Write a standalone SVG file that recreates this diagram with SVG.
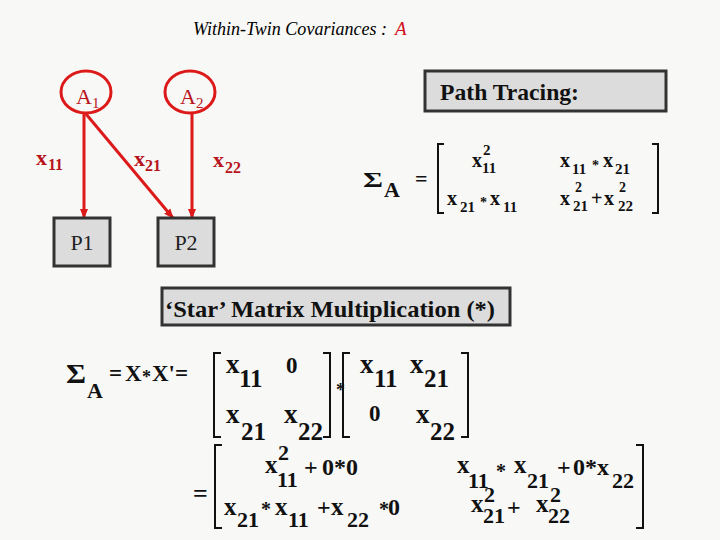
<svg xmlns="http://www.w3.org/2000/svg" width="720" height="540" viewBox="0 0 720 540">
<defs>
<marker id="ah" markerWidth="10" markerHeight="10" refX="9" refY="5" orient="auto" markerUnits="userSpaceOnUse">
<path d="M0,1 L10,5 L0,9 Z" fill="#dd1a1a"/>
</marker>
<style>
.bg{fill:#f8f8f6}
.lat{fill:none;stroke:#dd1a1a;stroke-width:3}
.box{fill:#dcdcdc;stroke:#333;stroke-width:3}
.con{stroke:#dd1a1a;stroke-width:3;fill:none;marker-end:url(#ah)}
.rl{font-family:"Liberation Serif",serif;fill:#b8141c}
.t{font-family:"Liberation Serif",serif;fill:#222}
.m{font-family:"Liberation Serif",serif;font-weight:bold;fill:#111}
.br{fill:none;stroke:#111;stroke-width:2}
</style>
</defs>
<rect class="bg" x="0" y="0" width="720" height="540"/>
<text x="193" y="35" font-family="'Liberation Serif',serif" font-style="italic" font-size="19" fill="#000" textLength="194" lengthAdjust="spacingAndGlyphs">Within-Twin Covariances :</text>
<text x="395" y="35" font-family="'Liberation Serif',serif" font-style="italic" font-size="19" fill="#d01020">A</text>

<g id="connectors">
<line class="con" x1="84" y1="114" x2="84" y2="218"/>
<line class="con" x1="86" y1="114" x2="173" y2="218"/>
<line class="con" x1="192" y1="114" x2="192" y2="218"/>
<text class="rl" font-weight="bold" font-size="22"><tspan x="36" y="165">x</tspan><tspan x="48" y="170" font-size="16">11</tspan></text>
<text class="rl" font-weight="bold" font-size="22"><tspan x="134" y="166">x</tspan><tspan x="145" y="171" font-size="16">21</tspan></text>
<text class="rl" font-weight="bold" font-size="22"><tspan x="213" y="167">x</tspan><tspan x="225" y="173" font-size="16">22</tspan></text>
</g>

<g id="A1">
<ellipse class="lat" cx="86" cy="92" rx="25" ry="21"/>
<text class="rl" font-size="22"><tspan x="76" y="104">A</tspan><tspan x="92" y="108" font-size="15">1</tspan></text>
</g>
<g id="A2">
<ellipse class="lat" cx="190" cy="92" rx="25" ry="21"/>
<text class="rl" font-size="22"><tspan x="180" y="104">A</tspan><tspan x="196" y="108" font-size="15">2</tspan></text>
</g>
<g id="P1">
<rect class="box" x="54" y="218" width="56" height="48"/>
<text class="t" x="82" y="250" font-size="22" text-anchor="middle">P1</text>
</g>
<g id="P2">
<rect class="box" x="158" y="218" width="56" height="48"/>
<text class="t" x="186" y="250" font-size="22" text-anchor="middle">P2</text>
</g>

<g id="pathTracing">
<rect class="box" x="425" y="71" width="241" height="40"/>
<text class="m" x="440" y="100" font-size="24" fill="#222" textLength="139" lengthAdjust="spacingAndGlyphs">Path Tracing:</text>
</g>

<g id="sigmaPath" class="m">
<text x="363" y="187" font-size="22" textLength="20" lengthAdjust="spacingAndGlyphs">Σ</text>
<text x="384" y="197" font-size="22">A</text>
<text x="415" y="186" font-size="22">=</text>
<path class="br" d="M444,144 L438,144 L438,213 L444,213"/>
<path class="br" d="M652,144 L658,144 L658,213 L652,213"/>
<text font-size="20"><tspan x="472" y="167">x</tspan><tspan x="483" y="155" font-size="15">2</tspan><tspan x="482" y="173" font-size="15">11</tspan></text>
<text font-size="20"><tspan x="560" y="167">x</tspan><tspan x="572" y="174" font-size="15">11</tspan><tspan x="592" y="170" font-size="14">*</tspan><tspan x="603" y="167">x</tspan><tspan x="615" y="174" font-size="15">21</tspan></text>
<text font-size="20"><tspan x="447" y="205">x</tspan><tspan x="460" y="212" font-size="15">21</tspan><tspan x="480" y="207" font-size="14">*</tspan><tspan x="490" y="205">x</tspan><tspan x="503" y="212" font-size="15">11</tspan></text>
<text font-size="20"><tspan x="560" y="205">x</tspan><tspan x="575" y="192" font-size="14">2</tspan><tspan x="573" y="211" font-size="15">21</tspan><tspan x="591" y="205">+</tspan><tspan x="604" y="205">x</tspan><tspan x="619" y="192" font-size="14">2</tspan><tspan x="618" y="211" font-size="15">22</tspan></text>
</g>

<g id="starBox">
<rect class="box" x="162" y="288" width="348" height="37"/>
<text class="m" x="165" y="317" font-size="24" fill="#111" textLength="330" lengthAdjust="spacingAndGlyphs">‘Star’ Matrix Multiplication (*)</text>
</g>

<g id="sigmaStar" class="m">
<text x="66" y="383" font-size="27" textLength="20" lengthAdjust="spacingAndGlyphs">Σ</text>
<text x="87" y="398" font-size="22">A</text>
<text font-size="23"><tspan x="109" y="381">=</tspan><tspan x="125" y="381">X</tspan><tspan x="142" y="383" font-size="18">*</tspan><tspan x="152" y="381">X'=</tspan></text>
<path class="br" d="M221,353 L214,353 L214,437 L221,437"/>
<path class="br" d="M323,353 L330,353 L330,437 L323,437"/>
<text font-size="27"><tspan x="226" y="373">x</tspan><tspan x="239" y="387" font-size="25">11</tspan></text>
<text x="286" y="373" font-size="23">0</text>
<text font-size="27"><tspan x="226" y="423">x</tspan><tspan x="241" y="440" font-size="25">21</tspan></text>
<text font-size="27"><tspan x="284" y="423">x</tspan><tspan x="298" y="440" font-size="25">22</tspan></text>
<text x="336" y="396" font-size="18">*</text>
<path class="br" d="M350,353 L343,353 L343,437 L350,437"/>
<path class="br" d="M461,353 L468,353 L468,437 L461,437"/>
<text font-size="27"><tspan x="360" y="373">x</tspan><tspan x="374" y="387" font-size="25">11</tspan></text>
<text font-size="27"><tspan x="410" y="373">x</tspan><tspan x="424" y="387" font-size="25">21</tspan></text>
<text x="369" y="421" font-size="23">0</text>
<text font-size="27"><tspan x="416" y="423">x</tspan><tspan x="430" y="440" font-size="25">22</tspan></text>

<text x="193" y="502" font-size="26">=</text>
<path class="br" d="M222,445 L215,445 L215,528 L222,528"/>
<path class="br" d="M636,445 L643,445 L643,528 L636,528"/>
<text font-size="25"><tspan x="265" y="473">x</tspan><tspan x="278" y="460" font-size="22">2</tspan><tspan x="277" y="487" font-size="22">11</tspan><tspan x="304" y="475" font-size="24">+</tspan><tspan x="322" y="475" font-size="24">0*0</tspan></text>
<text font-size="25"><tspan x="457" y="473">x</tspan><tspan x="468" y="488" font-size="22">11</tspan><tspan x="496" y="478" font-size="20">*</tspan><tspan x="514" y="473">x</tspan><tspan x="527" y="488" font-size="22">21</tspan><tspan x="557" y="475" font-size="24">+</tspan><tspan x="573" y="475" font-size="24">0*x</tspan><tspan x="612" y="488" font-size="22">22</tspan></text>
<text font-size="25"><tspan x="224" y="515">x</tspan><tspan x="237" y="527" font-size="22">21</tspan><tspan x="261" y="516" font-size="20">*</tspan><tspan x="275" y="515">x</tspan><tspan x="288" y="527" font-size="22">11</tspan><tspan x="317" y="515" font-size="24">+</tspan><tspan x="331" y="515">x</tspan><tspan x="347" y="527" font-size="22">22</tspan><tspan x="379" y="516" font-size="20">*</tspan><tspan x="388" y="515" font-size="24">0</tspan></text>
<text font-size="25"><tspan x="471" y="512">x</tspan><tspan x="484" y="502" font-size="22">2</tspan><tspan x="483" y="523" font-size="22">21</tspan><tspan x="507" y="515" font-size="24">+</tspan><tspan x="536" y="512">x</tspan><tspan x="550" y="502" font-size="22">2</tspan><tspan x="548" y="523" font-size="22">22</tspan></text>
</g>
</svg>
